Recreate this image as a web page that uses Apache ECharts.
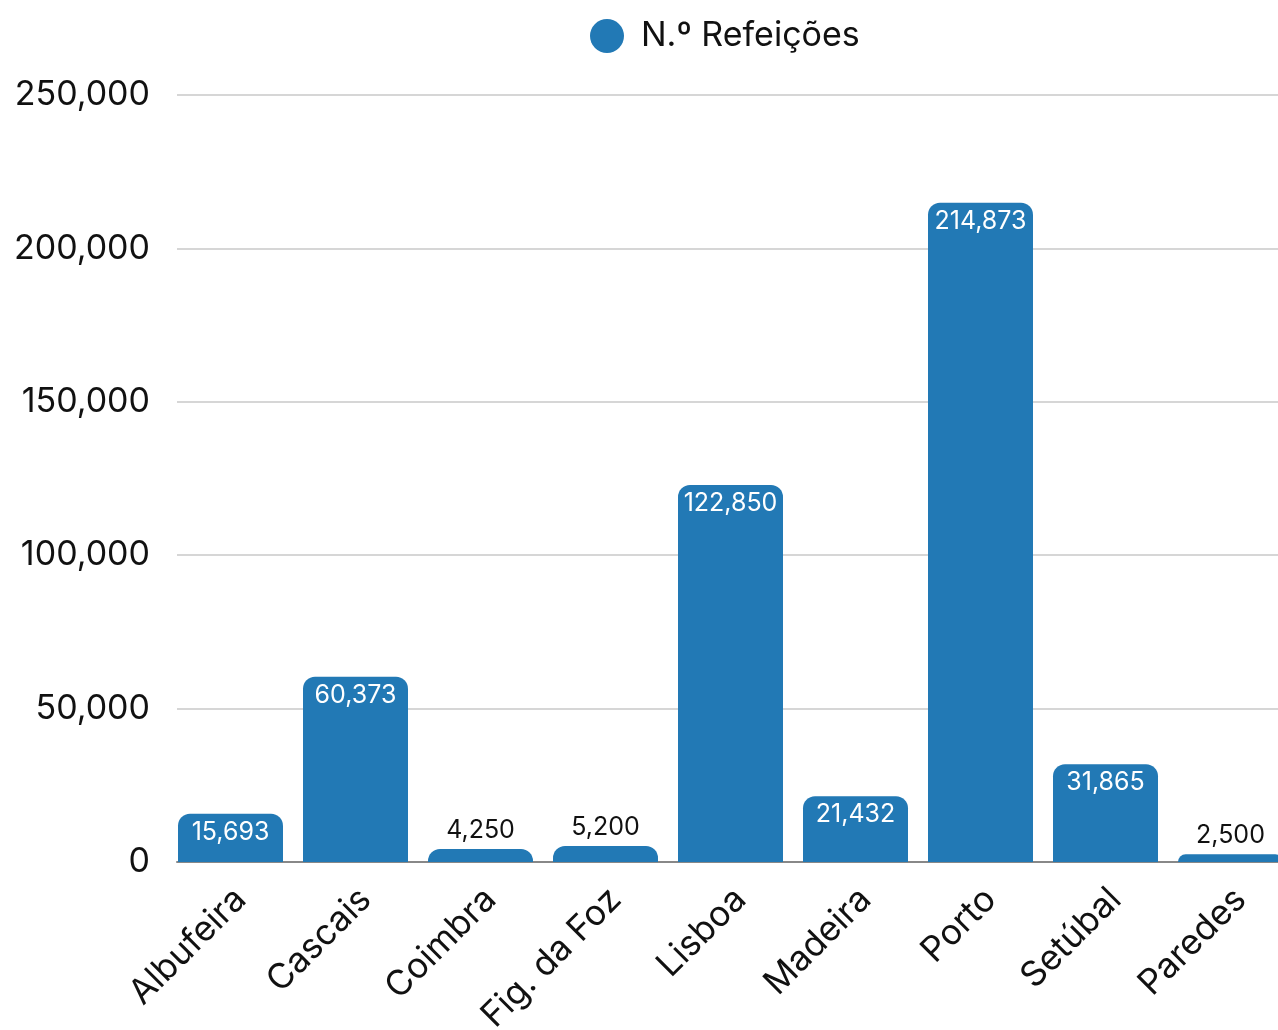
<!DOCTYPE html>
<html>
<head>
<meta charset="utf-8">
<script src="https://cdn.jsdelivr.net/npm/echarts@6/dist/echarts.min.js"></script>
<style>
  html, body { margin: 0; padding: 0; background: #fff; }
  #main { width: 1278px; height: 1030px; }
</style>
</head>
<body>
<div id="main"></div>
<script>
var categories = ['Albufeira', 'Cascais', 'Coimbra', 'Fig. da Foz', 'Lisboa', 'Madeira', 'Porto', 'Setúbal', 'Paredes'];
var refeicoes = [15693, 60373, 4250, 5200, 122850, 21432, 214873, 31865, 2500];
var smallBars = [2, 3, 8]; // rótulo por cima da barra

var font = 'Inter, "Noto Sans", sans-serif';
var azul = '#2279b5';

// eixo x numérico: barra i fica na posição i (última barra cortada à direita)
var dados = refeicoes.map(function (v, i) {
    var fora = smallBars.indexOf(i) >= 0;
    return {
        value: [i, v],
        label: fora
            ? { position: 'top', color: '#111', distance: 6 }
            : { position: 'insideTop', color: '#fff', distance: 6 }
    };
});
var posRotulos = categories.map(function (c, i) { return i + 0.08; });

var myChart = echarts.init(document.getElementById('main'));
myChart.setOption({
    animation: false,
    textStyle: { fontFamily: font },
    legend: {
        top: 14,
        left: 585,
        icon: 'circle',
        itemWidth: 34,
        itemHeight: 34,
        textStyle: { fontSize: 34, color: '#111', fontFamily: font, padding: [0, 0, 0, 12] },
        data: ['N.º Refeições']
    },
    grid: { left: 177, right: 0, top: 95, bottom: 168, outerBoundsMode: 'none' },
    xAxis: {
        type: 'value',
        min: -0.428,
        max: 8.38,
        splitLine: { show: false },
        axisLine: { onZero: false, lineStyle: { color: '#888', width: 2 } },
        axisTick: { show: false },
        axisLabel: {
            customValues: posRotulos,
            rotate: 45,
            margin: 32,
            fontSize: 35,
            color: '#111',
            fontFamily: font,
            formatter: function (v) { return categories[Math.round(v)]; }
        }
    },
    yAxis: {
        type: 'value',
        min: 0,
        max: 250000,
        interval: 50000,
        axisLine: { show: false },
        axisTick: { show: false },
        splitLine: { lineStyle: { color: '#c8c8c8', width: 1.5 } },
        axisLabel: {
            margin: 27,
            fontSize: 34,
            color: '#111',
            fontFamily: font,
            formatter: function (v) { return v.toLocaleString('en-US'); }
        }
    },
    series: [
        {
            name: 'N.º Refeições',
            type: 'bar',
            barWidth: 105,
            clip: true,
            itemStyle: { color: azul, borderRadius: [12, 12, 0, 0] },
            label: {
                show: true,
                fontSize: 25,
                fontFamily: font,
                formatter: function (p) { return p.value[1].toLocaleString('en-US'); }
            },
            data: dados
        }
    ]
});
</script>
</body>
</html>
